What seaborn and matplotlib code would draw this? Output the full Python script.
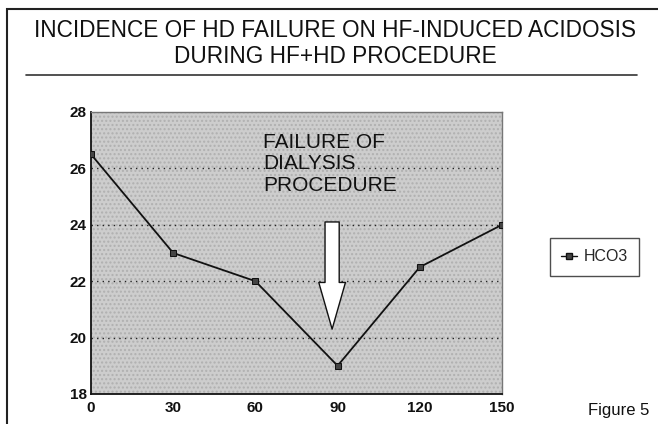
import matplotlib
matplotlib.use("Agg")
import matplotlib.pyplot as plt
import seaborn as sns
from matplotlib.patches import Rectangle
from matplotlib.lines import Line2D

# values
minutes = [0, 30, 60, 90, 120, 150]
hco3 = [26.5, 23.0, 22.0, 19.0, 22.5, 24.0]
x_ticks = [0, 30, 60, 90, 120, 150]
y_ticks = [18, 20, 22, 24, 26, 28]
grid_levels = [20, 22, 24, 26]
title_lines = ["INCIDENCE OF HD FAILURE ON HF-INDUCED ACIDOSIS",
               "DURING HF+HD PROCEDURE"]
note_text = "FAILURE OF\nDIALYSIS\nPROCEDURE"
series_name = "HCO3"

sns.set_theme(style="white")
plt.rcParams["font.family"] = ["Liberation Sans", "DejaVu Sans"]

fig = plt.figure(figsize=(6.58, 4.24), dpi=100)
fig.patch.set_facecolor("white")

# page frame and title rule
fig.add_artist(Rectangle((0.0106, -0.05), 1.2, 1.0276, transform=fig.transFigure,
                         fill=False, ec="#222222", lw=1.5, clip_on=False))
fig.add_artist(Line2D([0.0395, 0.968], [0.823, 0.823], transform=fig.transFigure,
                      color="#333333", lw=1.2))
fig.text(0.509, 0.929, title_lines[0], ha="center", va="center", fontsize=16.3, color="#111111")
fig.text(0.509, 0.866, title_lines[1], ha="center", va="center", fontsize=16.3, color="#111111")

ax = fig.add_axes([0.1383, 0.0708, 0.6246, 0.6651])
ax.set_facecolor("#cdcdcd")
ax.patch.set_hatch("....")
ax.patch.set_edgecolor("#b0b0b0")

for lvl in grid_levels:
    ax.axhline(lvl, color="#222222", lw=1.0, ls=(0, (1, 3)), zorder=1)

sns.lineplot(x=minutes, y=hco3, ax=ax, color="#111111", lw=1.3, marker="s",
             markersize=5, markerfacecolor="#444444", markeredgecolor="#111111",
             label=series_name, zorder=3)

ax.set_xlim(0, 150)
ax.set_ylim(18, 28)
ax.set_xticks(x_ticks)
ax.set_yticks(y_ticks)
ax.tick_params(length=0, labelsize=11, colors="#111111")
ax.tick_params(axis="x", pad=5)
ax.tick_params(axis="y", pad=3)
for lab in ax.get_xticklabels() + ax.get_yticklabels():
    lab.set_fontweight("bold")
for side in ["left", "bottom"]:
    ax.spines[side].set_color("#111111")
    ax.spines[side].set_linewidth(1.3)
for side in ["top", "right"]:
    ax.spines[side].set_color("#777777")
    ax.spines[side].set_linewidth(1.0)

# hollow arrow marking the failure
ax.annotate("", xy=(88, 20.3), xytext=(88, 24.1),
            arrowprops=dict(arrowstyle="simple,head_length=2.8,head_width=1.6,tail_width=0.85",
                            fc="white", ec="#111111", lw=1.0, shrinkA=0, shrinkB=0),
            zorder=4)
ax.text(62.8, 27.25, note_text, ha="left", va="top", fontsize=15,
        linespacing=1.15, color="#111111", zorder=5)

ax.legend_.remove()
handle = Line2D([], [], color="#111111", lw=1.0, marker="s", markersize=4,
                markerfacecolor="#444444", markeredgecolor="#111111")
fig.legend([handle], [series_name], loc="center", bbox_to_anchor=(0.9035, 0.394),
           frameon=True, fancybox=False, edgecolor="#222222", fontsize=11.5,
           handlelength=1.0, handletextpad=0.4, borderpad=0.7)

fig.text(0.893, 0.033, "Figure 5", ha="left", va="center", fontsize=12, color="#111111")

fig.savefig("out.png", dpi=100)
